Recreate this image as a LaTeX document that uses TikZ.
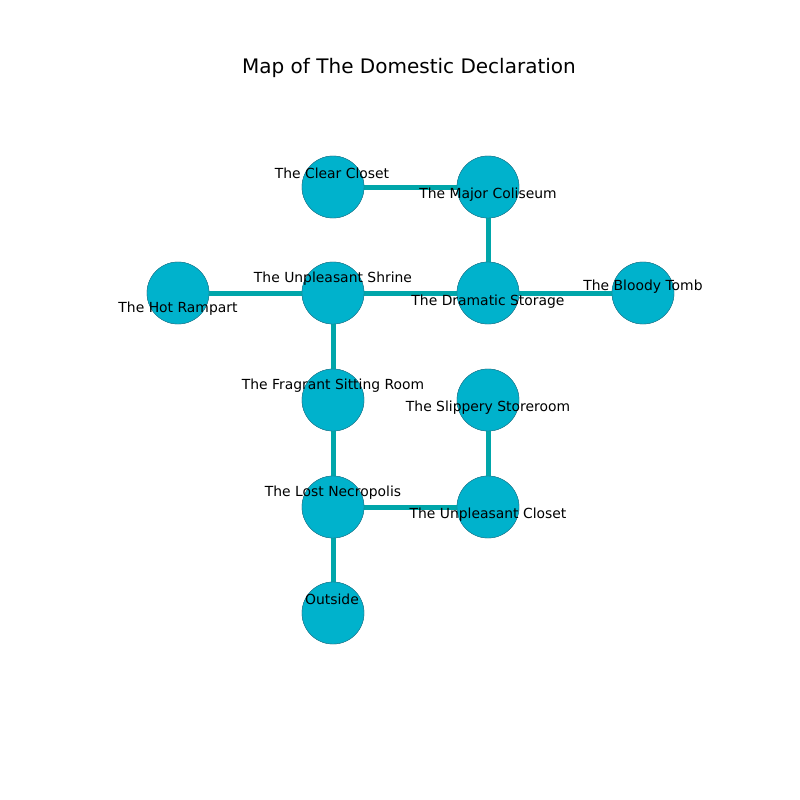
\documentclass[tikz,border=0pt]{standalone}
\usepackage{fontspec}
\setmainfont{DejaVu Sans}
\definecolor{nodefill}{RGB}{0,178,204}
\definecolor{nodeedge}{RGB}{40,120,140}
\definecolor{edgecol}{RGB}{0,166,170}
\begin{document}
\begin{tikzpicture}[x=1pt,y=-1pt,
  room/.style={circle,fill=nodefill,draw=nodeedge,line width=0.4pt,minimum size=62pt,inner sep=0pt},
  lbl/.style={font=\fontsize{13.9}{16}\selectfont,inner sep=0pt},
  link/.style={edgecol,line width=5pt}]
\useasboundingbox (0,0) rectangle (800,800);
\node[font=\fontsize{20}{24}\selectfont] (title) at (409,68) {Map of The Domestic Declaration};
% nodes
\node[room] (cc) at (333,187) {};
\node[room] (mc) at (488,187) {};
\node[room] (hr) at (178,293) {};
\node[room] (us) at (333,293) {};
\node[room] (ds) at (488,293) {};
\node[room] (bt) at (643,293) {};
\node[room] (fs) at (333,400) {};
\node[room] (ss) at (488,400) {};
\node[room] (ln) at (333,507) {};
\node[room] (uc) at (488,507) {};
\node[room] (out) at (333,613) {};
% edges, then nodes redrawn on top
\draw[link] (cc.center) -- (mc.center);
\draw[link] (mc.center) -- (ds.center);
\draw[link] (hr.center) -- (us.center);
\draw[link] (us.center) -- (ds.center);
\draw[link] (ds.center) -- (bt.center);
\draw[link] (us.center) -- (fs.center);
\draw[link] (fs.center) -- (ln.center);
\draw[link] (ln.center) -- (uc.center);
\draw[link] (ss.center) -- (uc.center);
\draw[link] (ln.center) -- (out.center);
\foreach \n in {cc,mc,hr,us,ds,bt,fs,ss,ln,uc,out}{
  \node[room] at (\n.center) {};
}
% labels
\node[lbl] (lcc) at (332,173) {The Clear Closet};
\node[lbl] (lmc) at (488,195) {The Major Coliseum};
\node[lbl] (lhr) at (178,309) {The Hot Rampart};
\node[lbl] (lus) at (333,279) {The Unpleasant Shrine};
\node[lbl] (lds) at (488,302) {The Dramatic Storage};
\node[lbl] (lbt) at (643,287) {The Bloody Tomb};
\node[lbl] (lfs) at (333,386) {The Fragrant Sitting Room};
\node[lbl] (lss) at (488,408) {The Slippery Storeroom};
\node[lbl] (lln) at (333,493) {The Lost Necropolis};
\node[lbl] (luc) at (488,515) {The Unpleasant Closet};
\node[lbl] (lout) at (332,599) {Outside};
\end{tikzpicture}
\end{document}
